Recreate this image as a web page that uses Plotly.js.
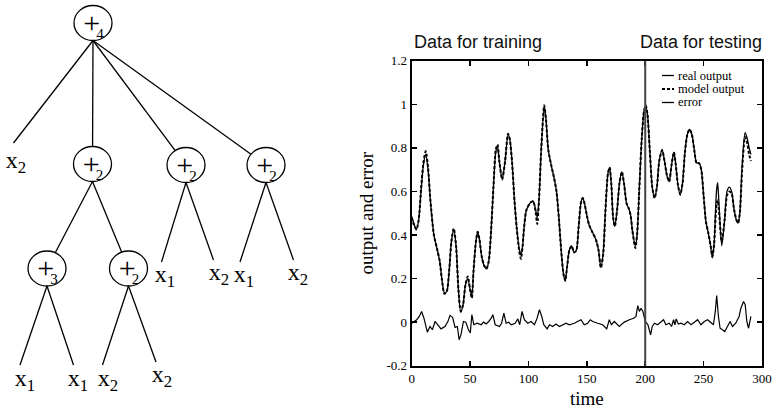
<!DOCTYPE html>
<html>
<head>
<meta charset="utf-8">
<script src="https://cdn.plot.ly/plotly-3.0.1.min.js"></script>
<style>html,body{margin:0;padding:0;background:#fff;}#chart{width:776px;height:409px;}</style>
</head>
<body>
<div id="chart"></div>
<script>
// ---------- Right panel data ----------
const timeKnots = [0,2,4,6,8,10,12,14,16,19,22,24,26,28,30,32,34,36,38,40,42,44,46,48,50,51.5,53,55,56.5,58,60,62,64,66,68,70,72,73.5,75,77.5,80,82.5,84,86,88,90,92,93.5,95,96,98,100,102,104,106,107.5,109,111,113.5,115,117,119.5,122,124,126,128,130,131.5,133,135,137,139,141,143,145,146.5,148,150,152,155,158,160,162,164,166,168,169.5,171,172.5,174,176,178,180,182,184,186,187.5,189,191.5,193,195,197,199,200.5,202,204,206,208,210,212,214.5,216.5,218.5,220.5,222.5,224.5,226,228,230,232,234,236,238,240,242,244,246,248,250,252,254,256,257.5,259,261,262,263,265.5,268,270,272,274,276,278,279.5,281,283,285.5,287,289,290.5];
const realOutput = [0.485,0.45,0.425,0.47,0.60,0.72,0.77,0.70,0.56,0.40,0.33,0.28,0.19,0.135,0.14,0.23,0.37,0.425,0.35,0.15,0.045,0.08,0.17,0.20,0.15,0.12,0.24,0.37,0.415,0.38,0.30,0.26,0.245,0.28,0.42,0.62,0.78,0.805,0.74,0.655,0.74,0.86,0.84,0.73,0.56,0.43,0.34,0.31,0.35,0.42,0.51,0.535,0.55,0.555,0.52,0.48,0.56,0.80,0.99,0.93,0.79,0.72,0.66,0.60,0.48,0.33,0.22,0.19,0.25,0.33,0.35,0.32,0.33,0.44,0.55,0.57,0.545,0.49,0.445,0.41,0.375,0.33,0.25,0.32,0.52,0.68,0.71,0.63,0.48,0.44,0.52,0.64,0.69,0.63,0.545,0.52,0.49,0.42,0.35,0.40,0.62,0.84,0.97,0.99,0.95,0.78,0.62,0.57,0.62,0.74,0.79,0.74,0.675,0.645,0.72,0.78,0.73,0.63,0.585,0.64,0.78,0.86,0.885,0.86,0.79,0.73,0.73,0.70,0.58,0.46,0.41,0.35,0.295,0.36,0.60,0.64,0.56,0.35,0.47,0.60,0.62,0.60,0.52,0.47,0.455,0.50,0.72,0.87,0.85,0.80,0.77];
const modelOutput = [0.48,0.445,0.425,0.47,0.61,0.73,0.785,0.71,0.56,0.40,0.33,0.28,0.19,0.13,0.14,0.23,0.37,0.43,0.35,0.15,0.05,0.08,0.17,0.21,0.15,0.11,0.24,0.37,0.415,0.38,0.30,0.26,0.245,0.28,0.42,0.62,0.79,0.815,0.74,0.655,0.74,0.865,0.84,0.73,0.56,0.43,0.33,0.29,0.35,0.42,0.51,0.535,0.55,0.555,0.51,0.45,0.56,0.80,0.995,0.93,0.79,0.72,0.66,0.60,0.48,0.33,0.22,0.19,0.25,0.33,0.35,0.32,0.33,0.44,0.55,0.57,0.545,0.49,0.445,0.41,0.375,0.33,0.25,0.31,0.52,0.68,0.71,0.63,0.48,0.44,0.52,0.64,0.69,0.63,0.545,0.52,0.49,0.42,0.34,0.40,0.62,0.84,0.97,0.995,0.95,0.78,0.62,0.57,0.62,0.74,0.79,0.74,0.675,0.645,0.72,0.78,0.73,0.63,0.585,0.64,0.78,0.86,0.885,0.86,0.79,0.73,0.73,0.70,0.58,0.46,0.41,0.35,0.30,0.36,0.54,0.56,0.52,0.37,0.47,0.58,0.60,0.59,0.52,0.47,0.455,0.50,0.70,0.85,0.83,0.77,0.74];

const errorTime = [0,2,4.3,6.5,8.5,10.5,13.4,15.7,17.7,20,22.3,25.1,28.5,31,32.8,35.1,37.1,39.1,40.6,42.3,44.3,46.3,48.6,50.2,51.5,53.2,56,59.5,61.5,63.8,66,68.1,69.5,71.5,75.2,77,78.9,80.9,83,85.2,88.6,90.9,92.5,94.5,96.5,99.4,102.3,105.1,107.4,109.4,111.4,113.1,116,118,120.8,123.5,126.5,129.3,132.2,135,139.3,142,145,147.8,150.7,153,155,159.3,163.5,167,169.2,171,173.5,177.8,182.1,186.4,190.1,192.1,193.6,195,196.4,198,200,202.3,204.6,206,208,210.5,213.4,215.7,217.7,220.5,222.5,224.3,225.4,226.6,228.3,230.6,233.4,236.3,239.2,242,244.9,247.7,250.6,253.4,256.3,258.4,260,261.2,262.7,264.1,266.1,268.1,270.4,272.7,274.7,277.5,280.4,281.9,284.2,285.6,287,288.5,290.5];
const errorValue = [-0.005,0.003,0.011,0.026,0.049,0.018,-0.046,-0.02,-0.035,0.003,-0.012,-0.031,-0.02,0.003,0.031,0.021,-0.024,-0.02,-0.081,-0.055,0.003,0,-0.035,-0.05,0.034,-0.012,-0.005,-0.012,0,-0.008,0.003,0.018,0.034,-0.012,-0.02,-0.005,0.041,-0.005,0,-0.012,-0.005,0.015,-0.012,0.049,0.011,-0.005,0.003,-0.012,0.018,0.057,0.026,-0.012,-0.031,-0.012,-0.02,-0.009,-0.02,-0.012,-0.005,-0.012,-0.005,0.003,0.011,-0.012,-0.005,0.011,0.003,-0.005,-0.012,-0.031,0.011,-0.012,0.003,-0.02,0,0.011,0.018,0.026,0.076,0.049,0.064,0.049,0.003,-0.012,-0.058,-0.02,-0.005,-0.012,0.003,0.011,-0.012,-0.005,-0.02,0.011,-0.012,0.015,-0.009,-0.005,-0.012,0.003,-0.012,0,0.011,-0.012,0.003,0.011,0,-0.012,0.049,0.122,0.026,-0.028,-0.035,-0.043,-0.02,0.003,-0.02,-0.005,0.026,0.064,0.095,0.08,0.003,-0.028,0.026];

const splitTime = 200;
const xTickVals = [0,50,100,150,200,250,300];
const yTickVals = [-0.2,0,0.2,0.4,0.6,0.8,1,1.2];
const yTickText = ['-0.2','0','0.2','0.4','0.6','0.8','1','1.2'];
const seriesNames = ['real output','model output','error'];
const headings = ['Data for training','Data for testing'];

// ---------- Left panel (tree) data ----------
const nodeX = [93, 92.5, 186, 266, 47, 128.5];
const nodeY = [23, 164, 165, 165, 268.5, 268.5];
const nodeArity = ['4','2','2','2','3','2'];
const nodeParent = [null, 0, 0, 0, 1, 1];
const leafTipX = [13.5, 20, 73.5, 102.5, 156, 161.5, 213.5, 240, 293.5];
const leafTipY = [143, 365, 365, 365, 362, 262, 260, 262, 260];
const leafLabelX = [16, 25, 78, 108, 162, 165, 219, 244, 298];
const leafLabelY = [162, 380, 380, 380, 376, 276, 274, 276, 274];
const leafVar = ['2','1','1','2','2','1','2','1','2'];
const leafParent = [0, 4, 4, 5, 5, 2, 2, 3, 3];

// ---------- build ----------
const SERIF = 'Liberation Serif, Times New Roman, serif';
const SANS = 'Liberation Sans, Arial, sans-serif';
const RX = 19, RY = 17.5;

const edgeX = [], edgeY = [];
function parentBottom(p){ return [nodeX[p], nodeY[p] + RY]; }
nodeParent.forEach((p, i) => {
  if (p === null) return;
  const [sx, sy] = parentBottom(p);
  const dx = sx - nodeX[i], dy = sy - nodeY[i];
  const s = 1 / Math.sqrt((dx/RX)*(dx/RX) + (dy/RY)*(dy/RY));
  edgeX.push(sx, nodeX[i] + s*dx, null);
  edgeY.push(sy, nodeY[i] + s*dy, null);
});
leafParent.forEach((p, i) => {
  const [sx, sy] = parentBottom(p);
  edgeX.push(sx, leafTipX[i], null);
  edgeY.push(sy, leafTipY[i], null);
});

const treeShapes = nodeX.map((cx, i) => ({
  type: 'circle', xref: 'x2', yref: 'y2',
  x0: cx - RX, x1: cx + RX, y0: nodeY[i] - RY, y1: nodeY[i] + RY,
  line: {color: 'black', width: 1.3}, fillcolor: 'rgba(0,0,0,0)'
}));

const traces = [
  {x: edgeX, y: edgeY, xaxis: 'x2', yaxis: 'y2', mode: 'lines',
   line: {color: 'black', width: 1.3}, hoverinfo: 'skip', showlegend: false},
  {x: nodeX.map(v => v + 0.5), y: nodeY.map(v => v + 2), xaxis: 'x2', yaxis: 'y2', mode: 'text',
   text: nodeArity.map(d => '<span style="letter-spacing:-4px">+</span><sub><span style="font-size:15px">' + d + '</span></sub>'),
   textfont: {family: SERIF, size: 30, color: 'black'},
   hoverinfo: 'skip', showlegend: false, cliponaxis: false},
  {x: leafLabelX, y: leafLabelY, xaxis: 'x2', yaxis: 'y2', mode: 'text',
   text: leafVar.map(v => 'x<sub>' + v + '</sub>'), textfont: {family: SERIF, size: 24, color: 'black'},
   hoverinfo: 'skip', showlegend: false, cliponaxis: false},
  {x: timeKnots, y: realOutput, name: seriesNames[0], mode: 'lines',
   line: {color: 'black', width: 1.3, shape: 'spline', smoothing: 0.7}, showlegend: false},
  {x: timeKnots, y: modelOutput, name: seriesNames[1], mode: 'lines',
   line: {color: 'black', width: 2, dash: '3px,2px', shape: 'spline', smoothing: 0.7}, showlegend: false},
  {x: errorTime, y: errorValue, name: seriesNames[2], mode: 'lines',
   line: {color: 'black', width: 1.2}, showlegend: false}
];

// custom compact legend (paper coords)
const legRowsPx = [75.5, 89, 102.5];
const legDash = ['solid', '3px,2px', 'solid'];
const legWidth = [1.3, 2, 1.3];
const W = 776, H = 409;
const legendShapes = legRowsPx.map((py, i) => ({
  type: 'line', xref: 'paper', yref: 'paper',
  x0: 662 / W, x1: 674 / W, y0: (H - py) / H, y1: (H - py) / H,
  line: {color: 'black', width: legWidth[i], dash: legDash[i]}
}));
const legendAnn = legRowsPx.map((py, i) => ({
  xref: 'paper', yref: 'paper', x: 676.5 / W, y: (H - py) / H,
  xanchor: 'left', yanchor: 'middle', showarrow: false, text: seriesNames[i], borderpad: 0,
  font: {family: SERIF, size: 12.5, color: 'black'}
}));

const layout = {
  width: W, height: H, margin: {l: 0, r: 0, t: 0, b: 0},
  paper_bgcolor: 'white', plot_bgcolor: 'rgba(0,0,0,0)', showlegend: false,
  xaxis: {domain: [411.7 / W, 762 / W], range: [0, 300], anchor: 'y',
    tickvals: xTickVals, ticks: 'inside', ticklen: 5, tickwidth: 1.5, tickcolor: 'black',
    showline: true, linewidth: 2, linecolor: 'black', mirror: 'ticks',
    showgrid: false, zeroline: false,
    tickfont: {family: SERIF, size: 13, color: 'black'},
    title: {text: 'time', font: {family: SERIF, size: 19, color: 'black'}, standoff: 6}},
  yaxis: {domain: [(H - 365.7) / H, (H - 60.7) / H], range: [-0.2, 1.2], anchor: 'x',
    tickvals: yTickVals, ticktext: yTickText, ticks: 'inside', ticklen: 5, tickwidth: 1.5, tickcolor: 'black',
    showline: true, linewidth: 2, linecolor: 'black', mirror: 'ticks',
    showgrid: false, zeroline: false,
    tickfont: {family: SERIF, size: 13, color: 'black'},
    title: {text: 'output and error', font: {family: SERIF, size: 19, color: 'black'}, standoff: 8}},
  xaxis2: {domain: [0, 388 / W], range: [0, 388], anchor: 'y2', visible: false, fixedrange: true},
  yaxis2: {domain: [0, 1], range: [409, 0], anchor: 'x2', visible: false, fixedrange: true},
  shapes: [
    {type: 'line', xref: 'x', yref: 'y domain', x0: splitTime, x1: splitTime, y0: 0, y1: 1,
     line: {color: '#444', width: 2}},
    ...legendShapes, ...treeShapes
  ],
  annotations: [
    {xref: 'paper', yref: 'paper', x: 411.7 / W, y: (H - 42.5) / H, xanchor: 'left', yanchor: 'middle',
     showarrow: false, text: headings[0], font: {family: SANS, size: 18, color: '#111'}},
    {xref: 'paper', yref: 'paper', x: 638.3 / W, y: (H - 42.5) / H, xanchor: 'left', yanchor: 'middle',
     showarrow: false, text: headings[1], font: {family: SANS, size: 18, color: '#111'}},
    ...legendAnn
  ]
};

Plotly.newPlot('chart', traces, layout, {staticPlot: true, displayModeBar: false});
</script>
</body>
</html>
